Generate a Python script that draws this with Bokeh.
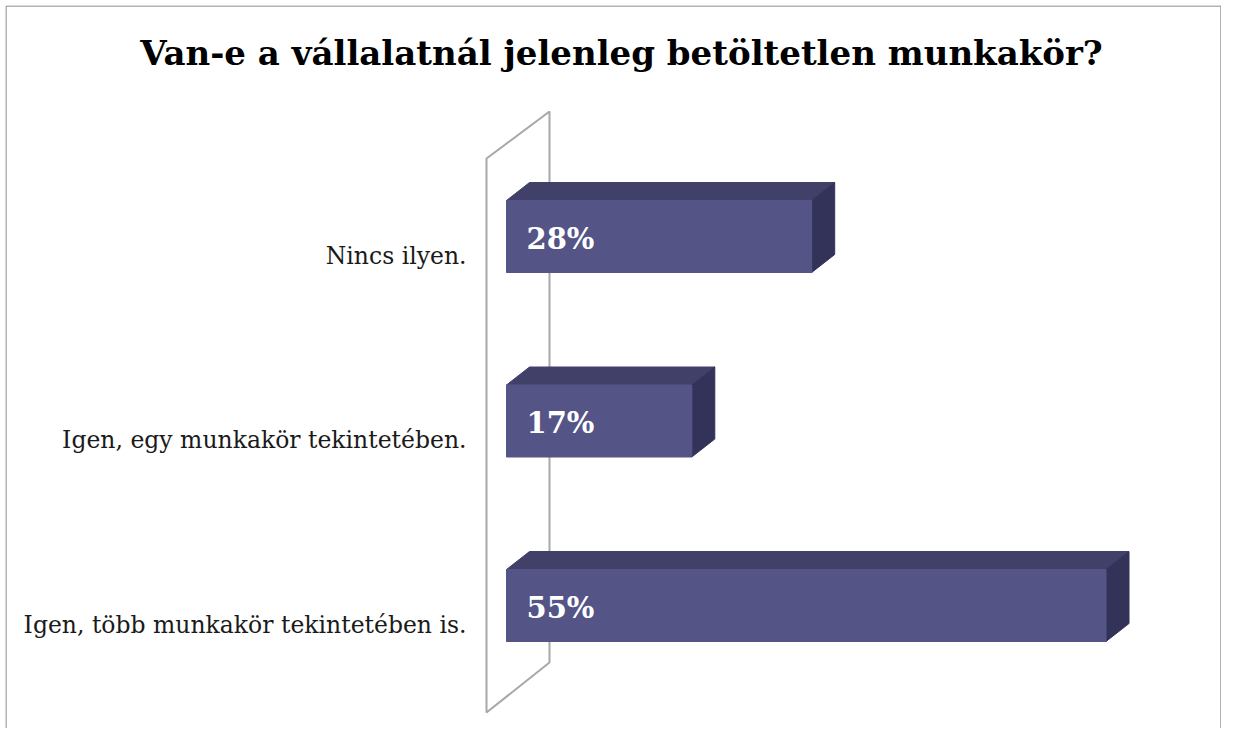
from bokeh.plotting import figure
from bokeh.models import Range1d, ColumnDataSource
from bokeh.core.properties import value
from bokeh.embed import file_html
from bokeh.resources import INLINE

title_text = "Van-e a vállalatnál jelenleg betöltetlen munkakör?"
categories = ["Nincs ilyen.", "Igen, egy munkakör tekintetében.", "Igen, több munkakör tekintetében is."]
values = [28, 17, 55]
positions = [2, 1, 0]
value_labels = ["28%", "17%", "55%"]

W, H_FIG = 1221, 728
OFF = 5                 # frame offset from canvas top-left
FW, FH = W - OFF, H_FIG - OFF
PX = 10.9      # px per percent
PY = 184.5     # px per category step
X0 = 506 - OFF   # frame px of zero
Y0 = 605 - OFF   # frame px of category 0 centre

x_start = -X0 / PX
x_end = (FW - X0) / PX
y_end = Y0 / PY
y_start = (Y0 - FH) / PY

p = figure(width=W, height=H_FIG, output_backend="svg", toolbar_location=None,
           x_range=Range1d(x_start, x_end), y_range=Range1d(y_start, y_end),
           min_border=0, min_border_left=OFF, min_border_top=OFF)
p.xaxis.visible = False
p.yaxis.visible = False
p.xgrid.visible = False
p.ygrid.visible = False
p.outline_line_color = None
p.background_fill_color = "white"
p.border_fill_color = "white"

# chart-area border (left, top, right)
ex = 0.5 / PX
ey = 0.5 / PY
p.line([x_start + ex, x_start + ex, x_end - ex, x_end - ex],
       [y_start, y_end - ey, y_end - ey, y_start],
       line_color="#9a9a9a", line_width=1.5)

BAR_H = 72 / PY
DX = 23 / PX
DY = 18 / PY

# wall (3D axis plane)
wall_front_x = -20 / PX
wall_back_x = 43 / PX
wf_top, wf_bot = (605 - 158) / PY, (605 - 712) / PY
wb_top, wb_bot = (605 - 111) / PY, (605 - 662) / PY
p.patch([wall_front_x, wall_back_x, wall_back_x, wall_front_x],
        [wf_top, wb_top, wb_bot, wf_bot],
        fill_color="white", line_color="#a8a8a8", line_width=2)

# top faces and side faces
top_xs, top_ys, side_xs, side_ys = [], [], [], []
for v, yi in zip(values, positions):
    t = yi + BAR_H / 2
    b = yi - BAR_H / 2
    top_xs.append([0, DX, v + DX, v])
    top_ys.append([t, t + DY, t + DY, t])
    side_xs.append([v, v + DX, v + DX, v])
    side_ys.append([t, t + DY, b + DY, b])

p.patches(top_xs, top_ys, fill_color="#404068", line_color="#404068", line_width=1)
p.patches(side_xs, side_ys, fill_color="#33335a", line_color="#33335a", line_width=1)

src = ColumnDataSource(dict(y=positions, right=values, cat=categories, lab=value_labels,
                            lab_x=[20 / PX] * 3,
                            lab_y=[yy - 2 / PY for yy in positions],
                            cat_x=[-40 / PX] * 3,
                            cat_y=[yy - 19 / PY for yy in positions]))
p.hbar(y="y", left=0, right="right", height=BAR_H, source=src,
       fill_color="#545487", line_color="#545487", line_width=1)

p.text(x="lab_x", y="lab_y", text="lab", source=src, text_color="white",
       text_font=value("DejaVu Serif"), text_font_style="bold", text_font_size="29px",
       text_baseline="middle", text_align="left")

p.text(x="cat_x", y="cat_y", text="cat", source=src, text_color="#1a1a1a",
       text_font=value("DejaVu Serif"), text_font_size="23.5px",
       text_baseline="middle", text_align="right")

p.text(x=[(621 - 506) / PX], y=[(605 - 52) / PY], text=[title_text], text_color="black",
       text_font=value("DejaVu Serif"), text_font_style="bold", text_font_size="34px",
       text_baseline="middle", text_align="center")

open("out.html", "w").write(file_html(p, INLINE))
